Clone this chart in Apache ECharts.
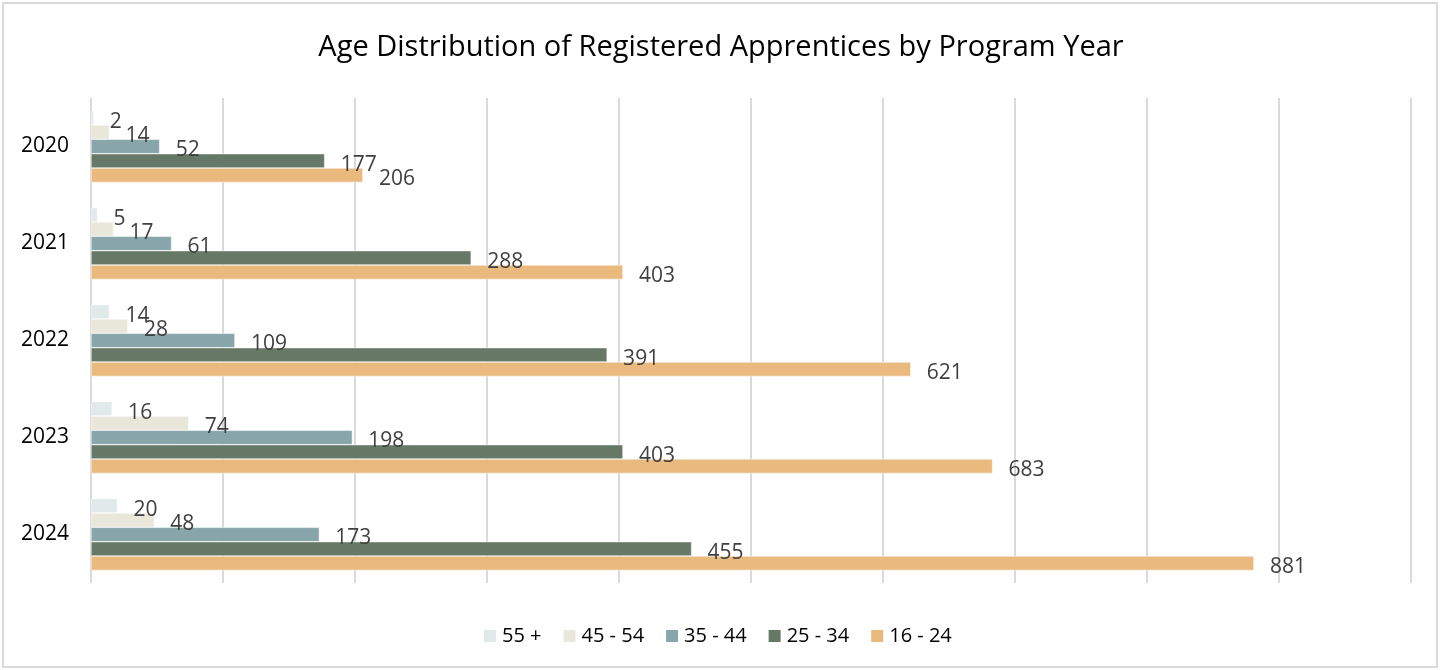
<!DOCTYPE html>
<html>
<head>
<meta charset="utf-8">
<script src="https://cdn.jsdelivr.net/npm/echarts@6/dist/echarts.min.js"></script>
<style>
html,body{margin:0;padding:0;background:#fff;}
#frame{position:absolute;left:2px;top:2px;width:1436px;height:666px;border:2px solid #d9d9d9;box-sizing:border-box;}
#chart{position:absolute;left:0;top:0;width:1442px;height:670px;}
</style>
</head>
<body>
<div id="frame"></div>
<div id="chart"></div>
<script>
const categories = ['2020', '2021', '2022', '2023', '2024'];
const seriesNames = ['55 +', '45 - 54', '35 - 44', '25 - 34', '16 - 24'];
const age55plus = [2, 5, 14, 16, 20];
const age45to54 = [14, 17, 28, 74, 48];
const age35to44 = [52, 61, 109, 198, 173];
const age25to34 = [177, 288, 391, 403, 455];
const age16to24 = [206, 403, 621, 683, 881];
const colors = ['#e0eaeb', '#e9e6da', '#88a6aa', '#667966', '#e9b97d'];

const FONT = '"Open Sans", sans-serif';
const allData = [age55plus, age45to54, age35to44, age25to34, age16to24];

const chart = echarts.init(document.getElementById('chart'), null, {renderer: 'canvas'});
chart.setOption({
  backgroundColor: 'transparent',
  animation: false,
  title: {
    text: 'Age Distribution of Registered Apprentices by Program Year',
    left: 'center',
    top: 28,
    textStyle: {fontFamily: FONT, fontSize: 29, fontWeight: 'normal', color: '#000'}
  },
  legend: {
    bottom: 19,
    left: 477,
    itemWidth: 14,
    itemHeight: 14,
    itemGap: 20,
    icon: 'rect',
    textStyle: {fontFamily: FONT, fontSize: 20, color: '#000'},
    data: seriesNames
  },
  grid: {left: 91, right: 31, top: 98, height: 485, containLabel: false},
  xAxis: {
    type: 'value', min: 0, max: 1000, interval: 100,
    axisLabel: {show: false}, axisLine: {show: false}, axisTick: {show: false},
    splitLine: {show: true, lineStyle: {color: '#d9d9d9', width: 2}}
  },
  yAxis: {
    type: 'category', data: categories, inverse: true,
    axisLine: {show: false}, axisTick: {show: false},
    axisLabel: {fontFamily: FONT, fontSize: 21, color: '#000', margin: 22, padding: [10, 0, 0, 0]}
  },
  series: seriesNames.map((n, i) => ({
    name: n,
    type: 'bar',
    data: allData[i],
    barCategoryGap: '26%',
    barGap: '0%',
    itemStyle: {color: colors[i], borderColor: '#fff', borderWidth: 0.5},
    label: {
      show: true, position: 'right', distance: 16, offset: [0, 4],
      fontFamily: FONT, fontSize: 21, color: '#404040'
    }
  }))
});
</script>
</body>
</html>
